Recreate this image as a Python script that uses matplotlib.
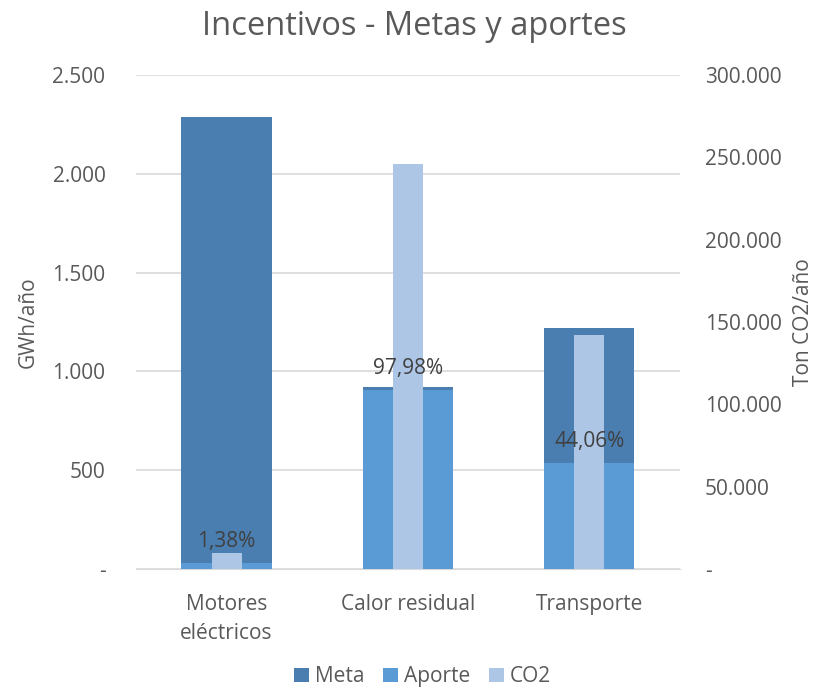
import matplotlib.pyplot as plt
import numpy as np

# Data
categorias = ['Motores\neléctricos', 'Calor residual', 'Transporte']
meta = [2289, 923, 1220]          # GWh/año
aporte = [31.6, 904, 537.5]       # GWh/año
co2 = [9900, 246000, 141900]      # Ton CO2/año
etiquetas = ['1,38%', '97,98%', '44,06%']

gris = '#595959'
plt.rcParams['font.family'] = ['Open Sans', 'DejaVu Sans']

fig = plt.figure(figsize=(8.29, 6.91), dpi=100)
ax = fig.add_axes([0.164, 0.1766, 0.656, 0.7149])
ax2 = ax.twinx()

x = np.arange(len(categorias))
ax.bar(x, meta, width=0.5, color='#4A7EB0', label='Meta', zorder=2)
ax.bar(x, aporte, width=0.5, color='#5B9BD5', label='Aporte', zorder=3)
ax2.bar(x, co2, width=0.165, color='#ADC6E5', label='CO2', zorder=2)

# percentage labels above the Aporte bars (drawn on top of everything)
for xi, v, t in zip(x, aporte, etiquetas):
    ax2.annotate(t, (xi, v), xycoords=ax.transData, xytext=(0, 8),
                 textcoords='offset points', ha='center', va='bottom',
                 fontsize=15, color='#404040', zorder=5)

ax.set_xlim(-0.5, 2.5)
ax.set_ylim(0, 2500)
ax2.set_ylim(0, 300000)
ax.set_yticks(range(0, 2501, 500))
ax2.set_yticks(range(0, 300001, 50000))

def fmt(v):
    return '-' if v == 0 else f'{v:,}'.replace(',', '.')

ax.set_yticklabels([fmt(v) for v in range(0, 2501, 500)])
ax2.set_yticklabels([fmt(v) for v in range(0, 300001, 50000)])
ax.set_xticks(x)
ax.set_xticklabels(categorias, linespacing=1.5)

ax.grid(axis='y', color='#D9D9D9', linewidth=1.2, zorder=0)
ax.set_axisbelow(True)
for a in (ax, ax2):
    for s in a.spines.values():
        s.set_visible(False)
    a.tick_params(length=0, labelsize=15, colors=gris)
ax.spines['bottom'].set_visible(True)
ax.spines['bottom'].set_color('#D9D9D9')
ax.tick_params(axis='x', pad=18)
ax.tick_params(axis='y', pad=22)
ax2.tick_params(axis='y', pad=18)

# draw CO2 bars over the primary axis bars
ax.set_zorder(1)
ax2.set_zorder(2)
ax.patch.set_visible(False)

ax.set_ylabel('GWh/año', fontsize=15, color=gris, labelpad=10)
ax2.set_ylabel('Ton CO2/año', fontsize=15, color=gris, labelpad=8)
fig.suptitle('Incentivos - Metas y aportes', fontsize=23.5, color=gris, y=0.985)

h1, l1 = ax.get_legend_handles_labels()
h2, l2 = ax2.get_legend_handles_labels()
fig.legend(h1 + h2, l1 + l2, loc='lower center', ncol=3, frameon=False,
           fontsize=15, labelcolor=gris, handlelength=0.7, handleheight=0.7,
           handletextpad=0.3, columnspacing=0.9, bbox_to_anchor=(0.51, -0.022))

fig.savefig('out.png', dpi=100)
